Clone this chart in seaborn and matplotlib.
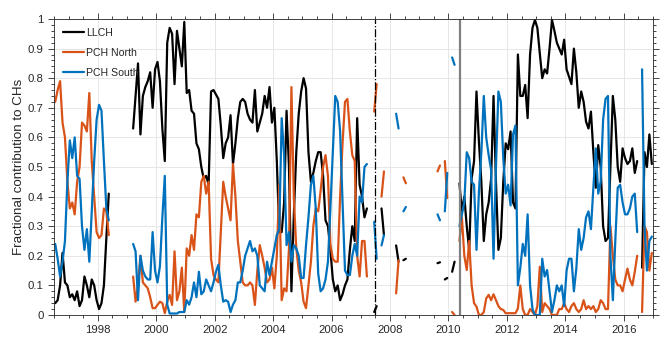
import numpy as np
import pandas as pd
import matplotlib
matplotlib.use("Agg")
import matplotlib.pyplot as plt
from matplotlib.lines import Line2D
from matplotlib.ticker import MultipleLocator, FormatStrFormatter
import seaborn as sns

nan = np.nan

# monthly values, first month = July 1996
first_year = 1996.5

llch = [
    0.04, 0.05, 0.10, 0.21, 0.11, 0.10,  # 1996 (Jul-Dec)
    0.06, 0.07, 0.05, 0.08, 0.03, 0.05, 0.13, 0.10, 0.06, 0.12, 0.10, 0.05,  # 1997
    0.02, 0.04, 0.10, 0.26, 0.41, nan, nan, nan, nan, nan, nan, nan,  # 1998
    nan, nan, 0.63, 0.74, 0.85, 0.61, 0.74, 0.77, 0.79, 0.82, 0.70, 0.83,  # 1999
    0.855, 0.79, 0.63, 0.52, 0.92, 0.97, 0.95, 0.78, 0.96, 0.90, 0.84, 0.99,  # 2000
    0.75, 0.76, 0.69, 0.68, 0.58, 0.56, 0.50, 0.46, 0.47, 0.44, 0.755, 0.76,  # 2001
    0.745, 0.73, 0.64, 0.53, 0.58, 0.60, 0.675, 0.51, 0.58, 0.665, 0.72, 0.73,  # 2002
    0.72, 0.68, 0.66, 0.65, 0.76, 0.62, 0.65, 0.68, 0.74, 0.70, 0.77, 0.65,  # 2003
    0.70, 0.52, 0.28, 0.28, 0.38, 0.69, 0.50, 0.08, 0.34, 0.55, 0.68, 0.755,  # 2004
    0.80, 0.765, 0.55, 0.45, 0.48, 0.52, 0.55, 0.55, 0.47, 0.32, 0.30, 0.22,  # 2005
    0.12, 0.08, 0.10, 0.05, 0.07, 0.10, 0.12, 0.22, 0.30, 0.25, 0.665, 0.44,  # 2006
    0.40, 0.33, 0.36, nan, nan, 0.01, 0.03, nan, 0.36, 0.27, nan, nan,  # 2007
    nan, nan, 0.235, 0.18, nan, 0.185, 0.19, nan, nan, nan, nan, nan,  # 2008
    nan, nan, nan, nan, nan, nan, nan, 0.175, 0.178, nan, 0.12, 0.125,  # 2009
    nan, 0.146, 0.18, nan, 0.445, 0.35, 0.40, 0.30, 0.22, 0.46, 0.52, 0.755,  # 2010
    0.585, 0.45, 0.25, 0.34, 0.38, 0.46, 0.74, 0.45, 0.22, 0.26, 0.45, 0.58,  # 2011
    0.56, 0.62, 0.38, 0.36, 0.88, 0.74, 0.74, 0.777, 0.665, 0.88, 0.97, 0.997,  # 2012
    0.97, 0.884, 0.80, 0.83, 0.816, 0.90, 0.997, 0.96, 0.92, 0.90, 0.88, 0.93,  # 2013
    0.83, 0.805, 0.78, 0.90, 0.82, 0.70, 0.755, 0.72, 0.653, 0.63, 0.687, 0.55,  # 2014
    0.43, 0.574, 0.50, 0.30, 0.25, 0.26, 0.50, 0.74, 0.66, 0.50, 0.45, 0.563,  # 2015
    0.53, 0.51, 0.52, 0.563, 0.48, 0.52, nan, 0.16, 0.55, 0.50, 0.61, 0.51,  # 2016
]

pch_north = [
    0.72, 0.76, 0.79, 0.65, 0.60, 0.45,
    0.36, 0.38, 0.34, 0.45, 0.50, 0.65, 0.64, 0.62, 0.75, 0.52, 0.40, 0.28,
    0.26, 0.27, 0.36, 0.35, 0.27, nan, nan, nan, nan, nan, nan, nan,
    nan, nan, 0.13, 0.045, 0.10, 0.20, 0.11, 0.10, 0.09, 0.06, 0.023, 0.023,
    0.034, 0.045, 0.04, 0.006, 0.045, 0.068, 0.034, 0.215, 0.05, 0.08, 0.16, 0.01,
    0.225, 0.20, 0.27, 0.22, 0.34, 0.33, 0.45, 0.47, 0.41, 0.45, 0.19, 0.135,
    0.12, 0.11, 0.28, 0.45, 0.40, 0.36, 0.32, 0.51, 0.40, 0.25, 0.18, 0.11,
    0.10, 0.10, 0.11, 0.10, 0.034, 0.15, 0.236, 0.20, 0.16, 0.11, 0.12, 0.16,
    0.09, 0.20, 0.44, 0.05, 0.09, 0.08, 0.225, 0.77, 0.395, 0.225, 0.15, 0.11,
    0.045, 0.023, 0.10, 0.18, 0.30, 0.36, 0.35, 0.42, 0.50, 0.54, 0.47, 0.24,
    0.19, 0.18, 0.18, 0.40, 0.58, 0.72, 0.73, 0.62, 0.54, 0.52, 0.20, 0.13,
    0.25, 0.25, 0.13, nan, nan, 0.687, 0.78, nan, 0.40, 0.485, nan, nan,
    nan, nan, 0.073, 0.185, nan, 0.465, 0.445, nan, nan, nan, nan, nan,
    nan, nan, nan, nan, nan, nan, nan, 0.485, 0.505, nan, 0.52, 0.395,
    nan, 0.01, 0.0, nan, 0.25, 0.33, 0.20, 0.152, 0.25, 0.10, 0.04, 0.028,
    0.0, 0.0, 0.01, 0.056, 0.068, 0.05, 0.07, 0.05, 0.03, 0.02, 0.017, 0.006,
    0.006, 0.006, 0.006, 0.006, 0.022, 0.10, 0.02, 0.0, 0.0, 0.02, 0.01, 0.0,
    0.03, 0.163, 0.01, 0.04, 0.03, 0.02, 0.0, 0.0, 0.0, 0.02, 0.02, 0.04,
    0.02, 0.01, 0.03, 0.04, 0.02, 0.01, 0.02, 0.05, 0.02, 0.03, 0.02, 0.03,
    0.01, 0.02, 0.05, 0.04, 0.02, 0.02, 0.30, 0.20, 0.12, 0.10, 0.10, 0.08,
    0.12, 0.157, 0.12, 0.10, 0.146, 0.20, nan, 0.01, 0.30, 0.28, 0.15, 0.21,
]

pch_south = [
    0.24, 0.19, 0.13, 0.18, 0.25, 0.45,
    0.59, 0.53, 0.60, 0.47, 0.46, 0.30, 0.22, 0.29, 0.18, 0.35, 0.52, 0.66,
    0.71, 0.69, 0.52, 0.36, 0.32, nan, nan, nan, nan, nan, nan, nan,
    nan, nan, 0.24, 0.215, 0.05, 0.20, 0.15, 0.13, 0.12, 0.12, 0.28, 0.15,
    0.11, 0.165, 0.33, 0.47, 0.035, 0.005, 0.005, 0.005, 0.005, 0.01, 0.01, 0.01,
    0.05, 0.035, 0.06, 0.11, 0.06, 0.146, 0.07, 0.08, 0.12, 0.10, 0.08, 0.11,
    0.146, 0.17, 0.10, 0.045, 0.05, 0.045, 0.01, 0.035, 0.05, 0.11, 0.11, 0.15,
    0.20, 0.225, 0.25, 0.215, 0.225, 0.20, 0.10, 0.09, 0.08, 0.18, 0.135, 0.18,
    0.225, 0.27, 0.29, 0.665, 0.54, 0.236, 0.28, 0.18, 0.236, 0.225, 0.20, 0.125,
    0.125, 0.236, 0.33, 0.44, 0.47, 0.36, 0.14, 0.08, 0.09, 0.12, 0.18, 0.36,
    0.55, 0.74, 0.72, 0.62, 0.38, 0.15, 0.135, 0.135, 0.20, 0.24, 0.20, 0.40,
    0.38, 0.50, 0.51, nan, nan, 0.315, 0.19, nan, 0.235, 0.27, nan, nan,
    nan, nan, 0.68, 0.63, nan, 0.35, 0.365, nan, nan, nan, nan, nan,
    nan, nan, nan, nan, nan, nan, nan, 0.34, 0.32, nan, 0.35, 0.48,
    nan, 0.87, 0.845, nan, 0.30, 0.34, 0.38, 0.55, 0.53, 0.45, 0.44, 0.22,
    0.415, 0.55, 0.74, 0.60, 0.54, 0.49, 0.19, 0.50, 0.755, 0.72, 0.53, 0.41,
    0.44, 0.37, 0.61, 0.64, 0.10, 0.16, 0.24, 0.20, 0.34, 0.10, 0.02, 0.0,
    0.0, 0.0, 0.19, 0.13, 0.152, 0.08, 0.01, 0.05, 0.10, 0.08, 0.10, 0.03,
    0.15, 0.19, 0.19, 0.08, 0.157, 0.29, 0.22, 0.26, 0.33, 0.35, 0.29, 0.43,
    0.563, 0.41, 0.45, 0.66, 0.73, 0.74, 0.20, 0.05, 0.25, 0.43, 0.44, 0.38,
    0.34, 0.34, 0.36, 0.40, 0.41, 0.28, nan, 0.83, 0.30, 0.15, 0.25, 0.265,
]

series_names = ["LLCH", "PCH North", "PCH South"]
series_colors = ["#000000", "#D95319", "#0072BD"]
year_ticks = [1998, 2000, 2002, 2004, 2006, 2008, 2010, 2012, 2014, 2016]
dashdot_year = 2007.47
gray_line_year = 2010.4


def to_long(name, values):
    v = np.array(values, dtype=float)
    t = first_year + (np.arange(len(v)) + 0.5) / 12
    seg = np.cumsum(np.isnan(v))  # contiguous runs get their own id
    df = pd.DataFrame({"year": t, "value": v, "seg": seg, "series": name})
    return df.dropna()


data = pd.concat([to_long(n, v) for n, v in
                  zip(series_names, [llch, pch_north, pch_south])],
                 ignore_index=True)

sns.set_style("ticks")
plt.rcParams["font.family"] = ["Liberation Sans", "DejaVu Sans"]
txt = "#262626"

fig = plt.figure(figsize=(6.65, 3.51), dpi=100)
ax = fig.add_axes([0.0812, 0.1026, 0.9008, 0.8433])

ax.grid(True, which="major", color="#e3e3e3", lw=0.6)
ax.set_axisbelow(True)

sns.lineplot(data=data, x="year", y="value", hue="series", units="seg",
             estimator=None, sort=False, palette=dict(zip(series_names, series_colors)),
             lw=1.6, legend=False, ax=ax)

ax.axvline(dashdot_year, color="black", lw=0.9, ls="-.")
ax.axvline(gray_line_year, color="#808080", lw=1.6)

ax.set_xlim(1996.5, 2017.0)
ax.set_ylim(0, 1)
ax.set_xticks(year_ticks)
ax.xaxis.set_minor_locator(MultipleLocator(0.5))
ax.yaxis.set_major_locator(MultipleLocator(0.1))
ax.yaxis.set_minor_locator(MultipleLocator(0.02))
ax.yaxis.set_major_formatter(FormatStrFormatter("%g"))

ax.set_xlabel("")
ax.set_ylabel("Fractional contribution to CHs", fontsize=9.6, color=txt, labelpad=2)
ax.tick_params(which="both", direction="out", top=True, right=True,
               labelsize=8.2, colors=txt, width=0.6)
ax.tick_params(which="major", length=4)
ax.tick_params(which="minor", length=2)
for sp in ax.spines.values():
    sp.set_color(txt)
    sp.set_linewidth(0.6)

handles = [Line2D([0], [0], color=c, lw=1.6) for c in series_colors]
ax.legend(handles, series_names, loc="upper left", frameon=False, fontsize=7.6,
          handlelength=2.0, handletextpad=0.2, labelspacing=0.95,
          borderaxespad=0.55, borderpad=0.3)

fig.savefig("out.png", dpi=100)
